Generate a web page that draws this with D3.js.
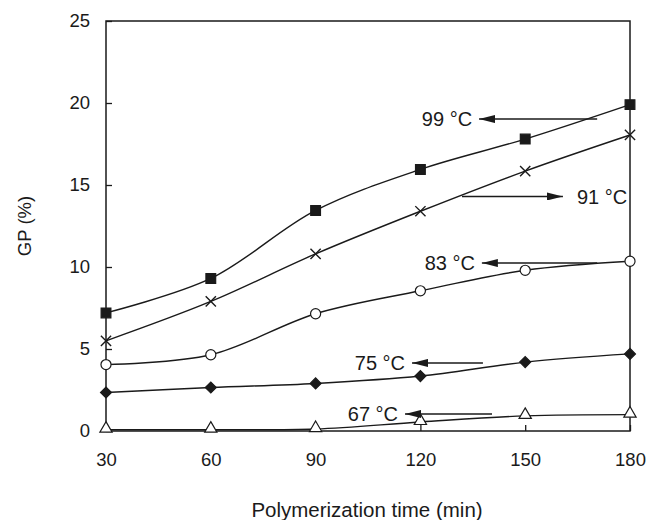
<!DOCTYPE html>
<html>
<head>
<meta charset="utf-8">
<script src="https://cdn.jsdelivr.net/npm/d3@7"></script>
<style>
  body { margin: 0; background: #fff; }
  text { font-family: "Liberation Sans", Arial, sans-serif; fill: #1a1a1a; }
</style>
</head>
<body>
<div id="plot"></div>
<script>
// data
const times = [30, 60, 90, 120, 150, 180];
const gp99 = [7.2, 9.3, 13.45, 15.95, 17.8, 19.9];
const gp91 = [5.5, 7.9, 10.8, 13.4, 15.85, 18.05];
const gp83 = [4.05, 4.65, 7.15, 8.55, 9.8, 10.35];
const gp75 = [2.35, 2.65, 2.9, 3.35, 4.2, 4.7];
const gp67 = [0.08, 0.08, 0.12, 0.55, 0.92, 1.0];
const xTicks = [30, 60, 90, 120, 150, 180];
const yTicks = [0, 5, 10, 15, 20, 25];

const series = [
  {name: "99 °C", values: gp99, marker: "square"},
  {name: "91 °C", values: gp91, marker: "cross"},
  {name: "83 °C", values: gp83, marker: "circle"},
  {name: "75 °C", values: gp75, marker: "diamond"},
  {name: "67 °C", values: gp67, marker: "triangle"}
];

// label annotations: arrow y value, arrow tail and tip in time units
const notes = [
  {label: "99 °C", y: 19.02, from: 170.6, to: 136.8, dir: "left"},
  {label: "91 °C", y: 14.3, from: 131.9, to: 160.8, dir: "right"},
  {label: "83 °C", y: 10.24, from: 170.6, to: 137.6, dir: "left"},
  {label: "75 °C", y: 4.15, from: 137.9, to: 117.6, dir: "left"},
  {label: "67 °C", y: 1.04, from: 140.5, to: 115.6, dir: "left"}
];

const width = 650, height = 520;
const margin = {top: 21, right: 20, bottom: 89, left: 106};

const svg = d3.select("#plot")
  .append("svg")
    .attr("width", width)
    .attr("height", height);

const xScale = d3.scaleLinear()
  .domain([30, 180])
  .range([margin.left, width - margin.right]);

const yScale = d3.scaleLinear()
  .domain([0, 25])
  .range([height - margin.bottom, margin.top]);

// frame
svg.append("rect")
  .attr("x", xScale(30))
  .attr("y", yScale(25))
  .attr("width", xScale(180) - xScale(30))
  .attr("height", yScale(0) - yScale(25))
  .attr("fill", "none")
  .attr("stroke", "#1a1a1a")
  .attr("stroke-width", 1.5);

// axes (ticks pointing inward)
svg.append("g")
  .attr("transform", `translate(0,${yScale(0)})`)
  .call(d3.axisBottom(xScale).tickValues(xTicks).tickSize(-6).tickPadding(22))
  .call(g => g.select(".domain").remove())
  .call(g => g.selectAll("line").attr("stroke", "#1a1a1a").attr("stroke-width", 1.3))
  .call(g => g.selectAll("text").attr("font-size", 18.5).attr("fill", "#1a1a1a")
    .style("font-family", "'Liberation Sans', Arial, sans-serif"));

svg.append("g")
  .attr("transform", `translate(${xScale(30)},0)`)
  .call(d3.axisLeft(yScale).tickValues(yTicks).tickSize(-6).tickPadding(16))
  .call(g => g.select(".domain").remove())
  .call(g => g.selectAll("line").attr("stroke", "#1a1a1a").attr("stroke-width", 1.3))
  .call(g => g.selectAll("text").attr("font-size", 18.5).attr("fill", "#1a1a1a")
    .style("font-family", "'Liberation Sans', Arial, sans-serif"));

// axis titles
svg.append("text")
  .attr("x", 367)
  .attr("y", 517)
  .attr("text-anchor", "middle")
  .attr("font-size", 20.5)
  .text("Polymerization time (min)");

svg.append("text")
  .attr("transform", `translate(31,${(yScale(0) + yScale(25)) / 2}) rotate(-90)`)
  .attr("text-anchor", "middle")
  .attr("font-size", 18.5)
  .text("GP (%)");

// curves
const line = d3.line()
  .x((d, i) => xScale(times[i]))
  .y(d => yScale(d))
  .curve(d3.curveCatmullRom.alpha(0.5));

const plotArea = svg.append("g").attr("class", "curves");

plotArea.selectAll("path.curve")
  .data(series)
  .join("path")
    .attr("class", "curve")
    .attr("d", d => line(d.values))
    .attr("fill", "none")
    .attr("stroke", "#1a1a1a")
    .attr("stroke-width", 1.4);

// markers
const symbolFor = {
  square: d3.symbol().type(d3.symbolSquare).size(95),
  cross: d3.symbol().type(d3.symbolTimes).size(70),
  circle: d3.symbol().type(d3.symbolCircle).size(80),
  diamond: d3.symbol().type(d3.symbolSquare).size(60),
  triangle: d3.symbol().type(d3.symbolTriangle).size(65)
};
const filled = {square: true, cross: false, circle: false, diamond: true, triangle: false};

series.forEach(s => {
  plotArea.selectAll(null)
    .data(s.values)
    .join("path")
      .attr("transform", (d, i) => `translate(${xScale(times[i])},${yScale(d) + (s.marker === "triangle" ? -1 : 0)})`
        + (s.marker === "diamond" ? " rotate(45)" : ""))
      .attr("d", symbolFor[s.marker]())
      .attr("fill", filled[s.marker] ? "#1a1a1a" : "#fff")
      .attr("stroke", "#1a1a1a")
      .attr("stroke-width", s.marker === "cross" ? 1.4 : 1.2);
});

// annotation arrows
svg.append("defs").append("marker")
  .attr("id", "head")
  .attr("viewBox", "0 0 16 8")
  .attr("refX", 16)
  .attr("refY", 4)
  .attr("markerWidth", 16)
  .attr("markerHeight", 8)
  .attr("markerUnits", "userSpaceOnUse")
  .attr("orient", "auto")
  .append("path")
    .attr("d", "M0,0 L16,4 L0,8 Z")
    .attr("fill", "#1a1a1a");

const noteG = svg.append("g").attr("class", "notes");

noteG.selectAll("line")
  .data(notes)
  .join("line")
    .attr("x1", d => xScale(d.from))
    .attr("x2", d => xScale(d.to))
    .attr("y1", d => yScale(d.y))
    .attr("y2", d => yScale(d.y))
    .attr("stroke", "#1a1a1a")
    .attr("stroke-width", 1.6)
    .attr("marker-end", "url(#head)");

noteG.selectAll("text")
  .data(notes)
  .join("text")
    .attr("x", d => d.dir === "left" ? xScale(d.to) - 7 : xScale(d.to) + 14)
    .attr("y", d => yScale(d.y))
    .attr("dy", "0.36em")
    .attr("text-anchor", d => d.dir === "left" ? "end" : "start")
    .attr("font-size", 20)
    .text(d => d.label);
</script>
</body>
</html>
